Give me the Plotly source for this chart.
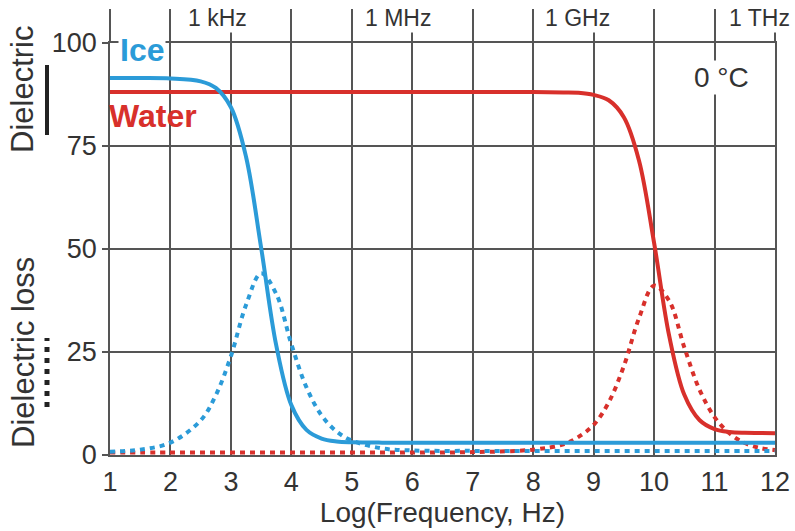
import plotly.graph_objects as go

# ---- data ----
x_ice = [1, 1.5, 2, 2.5, 2.75, 3, 3.25, 3.5, 3.75, 4, 4.25, 4.5, 4.75, 5, 5.5, 6, 7, 8, 9, 10, 11, 12]
ice_perm = [91.5, 91.5, 91.4, 90.7, 89.1, 84.4, 72.4, 50.3, 26.6, 12.1, 6.1, 4.0, 3.3, 3.1, 3.0, 3.0, 3.0, 3.0, 3.0, 3.0, 3.0, 3.0]
ice_loss = [0.8, 1.3, 3.0, 8.4, 14.5, 24.0, 36.4, 44.1, 39.1, 26.9, 16.4, 9.6, 5.7, 3.5, 1.6, 1.1, 1.0, 1.0, 1.0, 1.0, 1.0, 1.0]

x_water = [1, 2, 3, 4, 5, 6, 7, 8, 8.5, 8.75, 9, 9.25, 9.5, 9.75, 10, 10.25, 10.5, 10.75, 11, 11.25, 11.5, 11.75, 12]
water_perm = [88.1, 88.1, 88.1, 88.1, 88.1, 88.1, 88.1, 88.1, 88.0, 87.9, 87.4, 86.1, 82.0, 71.5, 51.5, 28.9, 14.6, 8.5, 6.3, 5.6, 5.4, 5.35, 5.3]
water_loss = [0.6, 0.6, 0.6, 0.6, 0.6, 0.6, 0.7, 1.3, 2.6, 4.4, 7.3, 12.8, 21.6, 33.2, 41.1, 37.4, 26.1, 15.9, 9.2, 5.2, 2.9, 1.7, 1.2]

x_ticks = list(range(1, 13))
y_ticks = [0, 25, 50, 75, 100]
top_labels = ["1 kHz", "1 MHz", "1 GHz", "1 THz"]
top_label_pos = [2.77, 5.76, 8.74, 11.75]

BLUE = "#2b9bd8"
RED = "#d8302b"
GRID = "#555555"
TXT = "#333333"
FONT = "Liberation Sans, Arial, sans-serif"
DOT = "5px,5px"

fig = go.Figure()
fig.add_trace(go.Scatter(x=x_water, y=water_loss, mode="lines", line=dict(color=RED, width=4, dash=DOT, shape="spline")))
fig.add_trace(go.Scatter(x=x_ice, y=ice_loss, mode="lines", line=dict(color=BLUE, width=4, dash=DOT, shape="spline")))
fig.add_trace(go.Scatter(x=x_water, y=water_perm, mode="lines", line=dict(color=RED, width=4, shape="spline")))
fig.add_trace(go.Scatter(x=x_ice, y=ice_perm, mode="lines", line=dict(color=BLUE, width=4, shape="spline")))
# invisible trace to carry the top axis
fig.add_trace(go.Scatter(x=[1, 12], y=[0, 0], xaxis="x2", mode="lines", line=dict(width=0), hoverinfo="skip"))

fig.update_layout(
    width=795, height=531,
    margin=dict(l=110, r=20, t=43, b=76),
    paper_bgcolor="white", plot_bgcolor="white",
    showlegend=False,
    font=dict(family=FONT, color=TXT),
    xaxis=dict(
        range=[1, 12], tickvals=x_ticks, ticktext=[str(v) for v in x_ticks],
        showgrid=True, gridcolor=GRID, gridwidth=1.5,
        showline=True, linecolor=GRID, linewidth=1.5, mirror=True,
        ticks="outside", ticklen=2, tickcolor="rgba(0,0,0,0)",
        tickfont=dict(size=27, color=TXT), zeroline=False, automargin=False,
        title=dict(text="Log(Frequency, Hz)", font=dict(size=28, color=TXT), standoff=0),
    ),
    xaxis2=dict(
        range=[1, 12], overlaying="x", side="top", tickvals=x_ticks,
        showticklabels=False, showgrid=False, zeroline=False,
        ticks="outside", ticklen=33, tickwidth=1.5, tickcolor=GRID,
        showline=False, automargin=False,
    ),
    yaxis=dict(
        range=[0, 100], tickvals=y_ticks, ticktext=[str(v) for v in y_ticks],
        showgrid=True, gridcolor=GRID, gridwidth=1.5,
        showline=True, linecolor=GRID, linewidth=1.5, mirror=True,
        ticks="outside", ticklen=6, tickwidth=1.5, tickcolor=GRID,
        tickfont=dict(size=27, color=TXT), zeroline=False, automargin=False,
    ),
)

annotations = []
for lab, pos in zip(top_labels, top_label_pos):
    annotations.append(dict(x=pos, y=1, xref="x", yref="paper", text=lab, showarrow=False,
                            yanchor="middle", yshift=25, bgcolor="white",
                            font=dict(size=23, color=TXT)))
annotations += [
    dict(x=0.012, y=0.983, xref="paper", yref="paper", text="<b>Ice</b>", showarrow=False,
         xanchor="left", yanchor="middle", bgcolor="white", font=dict(size=32, color=BLUE)),
    dict(x=-0.004, y=0.823, xref="paper", yref="paper", text="<b>Water</b>", showarrow=False,
         xanchor="left", yanchor="middle", font=dict(size=32, color=RED)),
    dict(x=0.919, y=0.917, xref="paper", yref="paper", text="0 °C", showarrow=False,
         xanchor="center", yanchor="middle", bgcolor="white", font=dict(size=28, color=TXT)),
    dict(x=(23 - 110) / 665, y=(455 - 90) / 412, xref="paper", yref="paper", text="Dielectric",
         showarrow=False, textangle=-90, xanchor="center", yanchor="middle",
         font=dict(size=31, color=TXT)),
    dict(x=(23 - 110) / 665, y=(455 - 353) / 412, xref="paper", yref="paper", text="Dielectric loss",
         showarrow=False, textangle=-90, xanchor="center", yanchor="middle",
         font=dict(size=31, color=TXT)),
]
fig.update_layout(annotations=annotations)

fig.add_shape(type="line", xref="paper", yref="paper",
              x0=(47 - 110) / 665, x1=(47 - 110) / 665,
              y0=(455 - 135) / 412, y1=(455 - 65) / 412,
              line=dict(color="#222222", width=4))
fig.add_shape(type="line", xref="paper", yref="paper",
              x0=(47 - 110) / 665, x1=(47 - 110) / 665,
              y0=(455 - 407) / 412, y1=(455 - 338) / 412,
              line=dict(color="#222222", width=5, dash="5px,6px"))

fig.write_html("out.html", config={"displayModeBar": False},
               post_script="document.body.style.margin='0';document.body.style.overflow='hidden';")
